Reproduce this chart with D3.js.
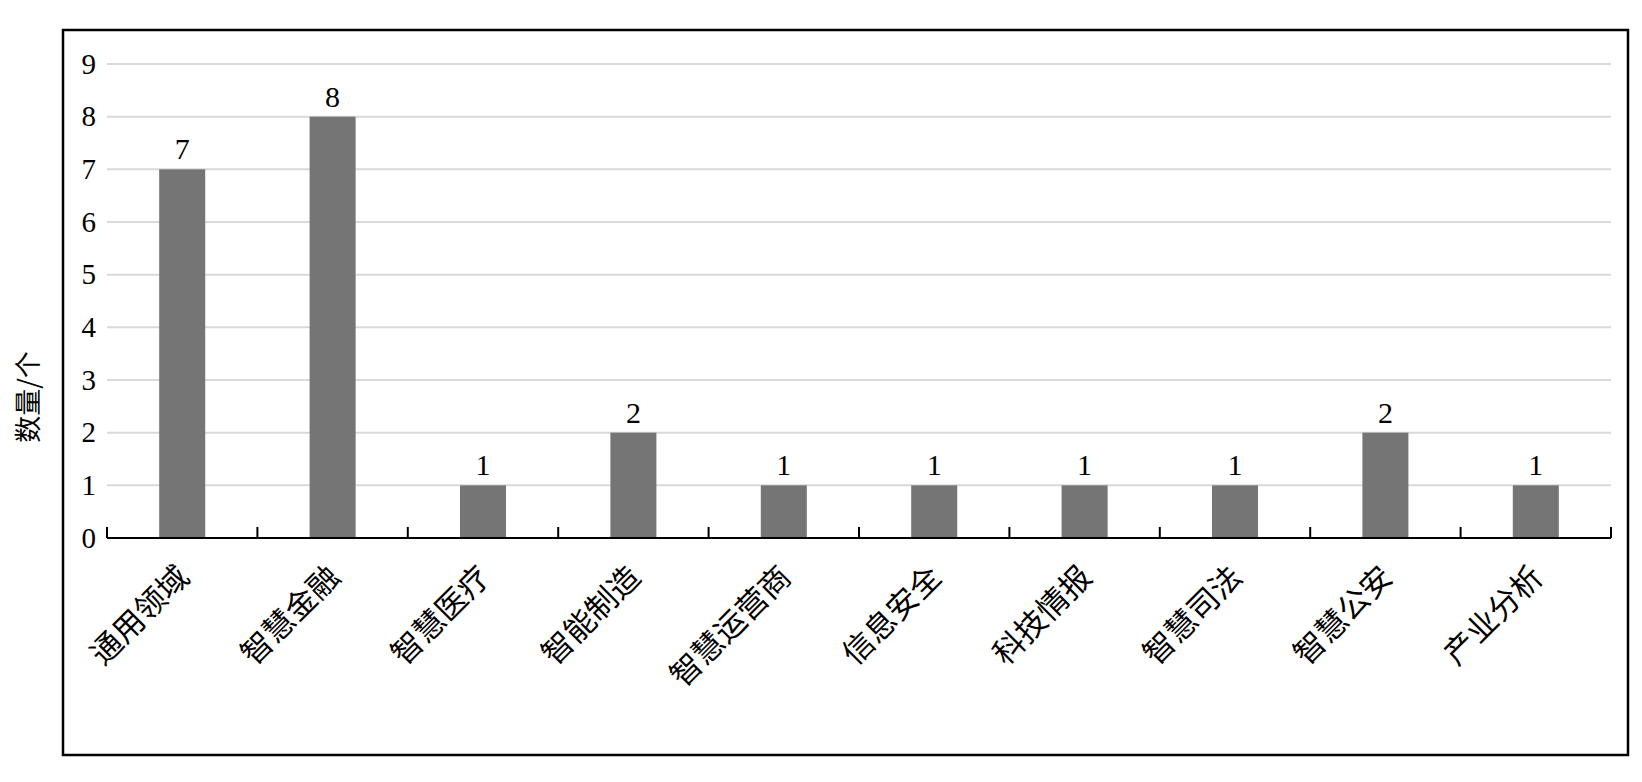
<!DOCTYPE html>
<html><head><meta charset="utf-8">
<script src="https://cdn.jsdelivr.net/npm/d3@7"></script>
<style>body{margin:0;background:#fff}svg{display:block}</style>
</head><body>
<svg id="c" width="1642" height="782"></svg>
<script>
const categories = ["通用领域","智慧金融","智慧医疗","智能制造","智慧运营商","信息安全","科技情报","智慧司法","智慧公安","产业分析"];
const values = [7,8,1,2,1,1,1,1,2,1];
const yTicks = [0,1,2,3,4,5,6,7,8,9];
const yTitle = "数量/个";

const svg = d3.select("#c");
const plot = {left:107, right:1611, top:64, bottom:538};
const serif = "'Liberation Serif','Times New Roman',serif";
const cjk = "'Noto Sans CJK SC','Noto Sans CJK JP',sans-serif";

svg.append("rect").attr("x",63).attr("y",30).attr("width",1565).attr("height",725)
  .attr("fill","#fff").attr("stroke","#000").attr("stroke-width",2.5);

const x = d3.scaleBand().domain(categories).range([plot.left, plot.right]).paddingInner(0.694).paddingOuter(0.347);
const xb = d3.scaleBand().domain(categories).range([plot.left, plot.right]);
const y = d3.scaleLinear().domain([0,9]).range([plot.bottom, plot.top]);

// gridlines
svg.append("g").selectAll("line").data(yTicks.filter(d=>d>0)).join("line")
  .attr("x1",plot.left).attr("x2",plot.right)
  .attr("y1",d=>y(d)).attr("y2",d=>y(d))
  .attr("stroke","#d9d9d9").attr("stroke-width",2);

// y tick labels via axis
const yAxis = svg.append("g").attr("transform",`translate(${plot.left},0)`)
  .call(d3.axisLeft(y).tickValues(yTicks).tickSize(0).tickPadding(11));
yAxis.select(".domain").remove();
yAxis.selectAll("text").attr("font-family",serif).attr("font-size",29).attr("fill","#000");

// bars
svg.append("g").selectAll("rect").data(values).join("rect")
  .attr("x",(d,i)=>x(categories[i])).attr("width",x.bandwidth())
  .attr("y",d=>y(d)).attr("height",d=>y(0)-y(d))
  .attr("fill","#757575");

// value labels
svg.append("g").selectAll("text").data(values).join("text")
  .attr("x",(d,i)=>x(categories[i])+x.bandwidth()/2)
  .attr("y",d=>y(d)-10)
  .attr("text-anchor","middle")
  .attr("font-family",serif).attr("font-size",30).attr("fill","#000")
  .text(d=>d);

// x axis line + ticks
const ax = svg.append("g");
ax.append("line").attr("x1",plot.left).attr("x2",plot.right)
  .attr("y1",plot.bottom).attr("y2",plot.bottom).attr("stroke","#000").attr("stroke-width",2);
const bounds = categories.map(c=>xb(c)).concat([plot.right]);
ax.selectAll("line.t").data(bounds).join("line").attr("class","t")
  .attr("x1",d=>d).attr("x2",d=>d).attr("y1",plot.bottom).attr("y2",plot.bottom-11)
  .attr("stroke","#000").attr("stroke-width",2);

// category labels
svg.append("g").selectAll("text").data(categories).join("text")
  .attr("transform",c=>`translate(${xb(c)+xb.bandwidth()/2+9},${plot.bottom+41}) rotate(-45)`)
  .attr("text-anchor","end")
  .attr("font-family",cjk).attr("font-size",31).attr("fill","#000")
  .text(c=>c);

// y title
svg.append("text").attr("transform",`translate(38,397) rotate(-90)`)
  .attr("text-anchor","middle").attr("font-family",cjk).attr("font-size",27).attr("fill","#000")
  .text(yTitle);
</script>
</body></html>
